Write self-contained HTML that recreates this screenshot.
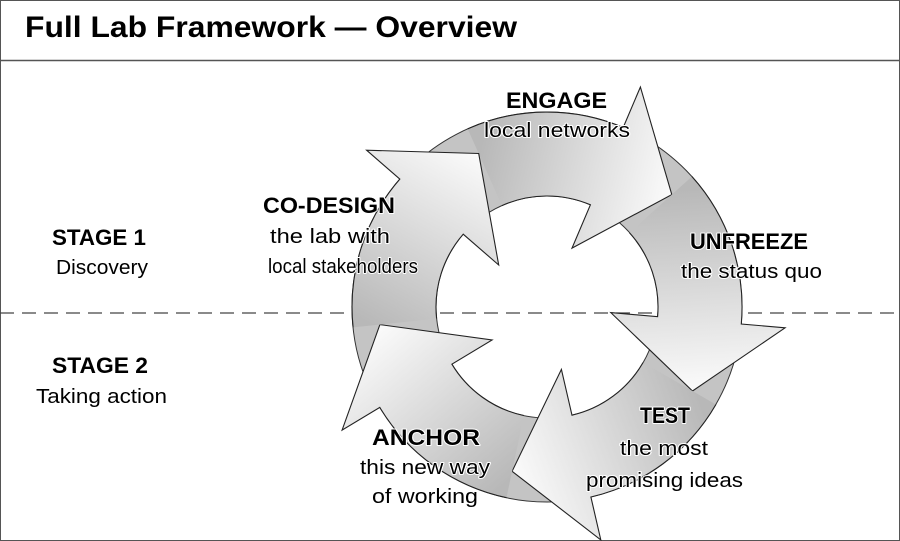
<!DOCTYPE html>
<html><head><meta charset="utf-8"><style>
html,body{margin:0;padding:0;background:#fff}
svg{display:block}
text{font-family:"Liberation Sans",sans-serif;fill:#000}
.h{font-weight:bold;font-size:22px}
.n{font-size:20px}
.halo{stroke:#fff;stroke-width:2px;paint-order:stroke;stroke-linejoin:round}
</style></head><body>
<svg width="900" height="541" viewBox="0 0 900 541" xmlns="http://www.w3.org/2000/svg">
<defs>
<linearGradient id="g0" gradientUnits="userSpaceOnUse" x1="480" y1="150" x2="672" y2="195"><stop offset="0" stop-color="#b8b8b8"/><stop offset="1" stop-color="#fbfbfb"/></linearGradient>
<linearGradient id="g1" gradientUnits="userSpaceOnUse" x1="680" y1="190" x2="692" y2="391"><stop offset="0" stop-color="#b8b8b8"/><stop offset="1" stop-color="#fbfbfb"/></linearGradient>
<linearGradient id="g2" gradientUnits="userSpaceOnUse" x1="700" y1="400" x2="512" y2="471"><stop offset="0" stop-color="#b8b8b8"/><stop offset="1" stop-color="#fbfbfb"/></linearGradient>
<linearGradient id="g3" gradientUnits="userSpaceOnUse" x1="510" y1="480" x2="380" y2="325"><stop offset="0" stop-color="#b8b8b8"/><stop offset="1" stop-color="#fbfbfb"/></linearGradient>
<linearGradient id="g4" gradientUnits="userSpaceOnUse" x1="380" y1="330" x2="479" y2="153"><stop offset="0" stop-color="#b8b8b8"/><stop offset="1" stop-color="#fbfbfb"/></linearGradient>
</defs>
<rect x="0.5" y="0.5" width="899" height="540" fill="#fff" stroke="#555" stroke-width="1"/>
<line x1="0" y1="60.5" x2="900" y2="60.5" stroke="#555" stroke-width="1.5"/>
<text x="25" y="37" style="font-weight:bold;font-size:30px" textLength="492" lengthAdjust="spacingAndGlyphs">Full Lab Framework — Overview</text>

<path d="M547 112 A195 195 0 1 1 546.9 112 Z M547 196 A111 111 0 1 0 547.1 196 Z" fill="#c4c4c4" fill-rule="evenodd" stroke="#333" stroke-width="1"/>
<line x1="0" y1="313" x2="900" y2="313" stroke="#444" stroke-width="1.2" stroke-dasharray="14,8"/>

<g stroke="#222" stroke-width="1.1" stroke-linejoin="miter">
<path d="M467.7 128.9 A195 195 0 0 1 623.2 127.5 L640.4 87 L671.8 194.6 L572 248.1 L590.4 204.8 A111 111 0 0 0 501.9 205.6 Z" fill="url(#g0)" stroke="none"/>
<path d="M467.7 128.9 A195 195 0 0 1 623.2 127.5 L640.4 87 L671.8 194.6 L572 248.1 L590.4 204.8 A111 111 0 0 0 501.9 205.6" fill="none"/>
<path d="M691.9 176.5 A195 195 0 0 1 741.3 324 L785.1 327.8 L692.5 391 L610.8 312.6 L657.6 316.7 A111 111 0 0 0 629.5 232.7 Z" fill="url(#g1)" stroke="none"/>
<path d="M691.9 176.5 A195 195 0 0 1 741.3 324 L785.1 327.8 L692.5 391 L610.8 312.6 L657.6 316.7 A111 111 0 0 0 629.5 232.7" fill="none"/>
<path d="M715.9 404.5 A195 195 0 0 1 590.9 497 L600.8 539.9 L512.1 471.3 L561.4 369.4 L572 415.2 A111 111 0 0 0 643.1 362.5 Z" fill="url(#g2)" stroke="none"/>
<path d="M715.9 404.5 A195 195 0 0 1 590.9 497 L600.8 539.9 L512.1 471.3 L561.4 369.4 L572 415.2 A111 111 0 0 0 643.1 362.5" fill="none"/>
<path d="M506.5 497.7 A195 195 0 0 1 379.8 407.4 L342.1 430.1 L379.9 324.6 L492.1 340 L451.9 364.2 A111 111 0 0 0 523.9 415.6 Z" fill="url(#g3)" stroke="none"/>
<path d="M506.5 497.7 A195 195 0 0 1 379.8 407.4 L342.1 430.1 L379.9 324.6 L492.1 340 L451.9 364.2 A111 111 0 0 0 523.9 415.6" fill="none"/>
<path d="M353.1 327.4 A195 195 0 0 1 399.8 179.1 L366.6 150.2 L478.7 153.5 L498.7 265 L463.2 234.2 A111 111 0 0 0 436.6 318.6 Z" fill="url(#g4)" stroke="none"/>
<path d="M353.1 327.4 A195 195 0 0 1 399.8 179.1 L366.6 150.2 L478.7 153.5 L498.7 265 L463.2 234.2 A111 111 0 0 0 436.6 318.6" fill="none"/>
</g>

<g class="halo">
<text class="h" x="506" y="108" textLength="101" lengthAdjust="spacingAndGlyphs">ENGAGE</text>
<text class="n" x="484" y="137" textLength="146" lengthAdjust="spacingAndGlyphs">local networks</text>
<text class="h" x="263" y="213" textLength="132" lengthAdjust="spacingAndGlyphs">CO-DESIGN</text>
<text class="n" x="270" y="243" textLength="120" lengthAdjust="spacingAndGlyphs">the lab with</text>
<text class="n" x="268" y="273" textLength="150" lengthAdjust="spacingAndGlyphs">local stakeholders</text>
<text class="h" x="690" y="249" textLength="118" lengthAdjust="spacingAndGlyphs">UNFREEZE</text>
<text class="n" x="681" y="278" textLength="141" lengthAdjust="spacingAndGlyphs">the status quo</text>
<text class="h" x="640" y="423" textLength="50" lengthAdjust="spacingAndGlyphs">TEST</text>
<text class="n" x="620" y="455" textLength="88" lengthAdjust="spacingAndGlyphs">the most</text>
<text class="n" x="586" y="487" textLength="157" lengthAdjust="spacingAndGlyphs">promising ideas</text>
<text class="h" x="372" y="445" textLength="108" lengthAdjust="spacingAndGlyphs">ANCHOR</text>
<text class="n" x="360" y="474" textLength="130" lengthAdjust="spacingAndGlyphs">this new way</text>
<text class="n" x="372" y="503" textLength="106" lengthAdjust="spacingAndGlyphs">of working</text>
</g>
<text class="h" x="52" y="245" textLength="94" lengthAdjust="spacingAndGlyphs">STAGE 1</text>
<text class="n" x="56" y="274" textLength="92" lengthAdjust="spacingAndGlyphs">Discovery</text>
<text class="h" x="52" y="373" textLength="96" lengthAdjust="spacingAndGlyphs">STAGE 2</text>
<text class="n" x="36" y="403" textLength="131" lengthAdjust="spacingAndGlyphs">Taking action</text>
</svg>
</body></html>
